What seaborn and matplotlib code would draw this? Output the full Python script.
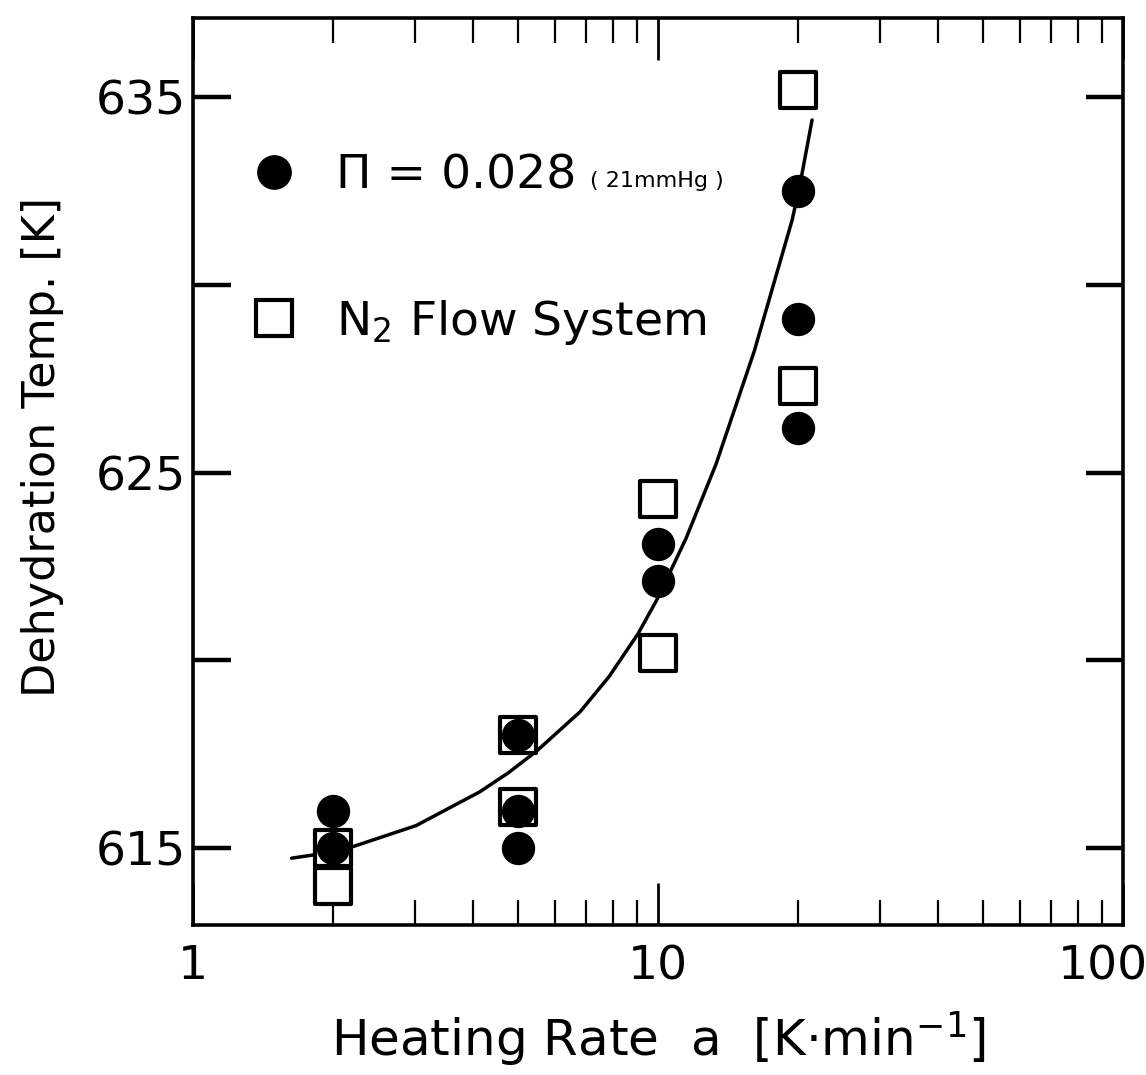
import seaborn as sns
import matplotlib.pyplot as plt
from matplotlib import ticker
from matplotlib.lines import Line2D
from matplotlib.transforms import ScaledTranslation

rate_circ = [2, 2, 5, 5, 5, 10, 10, 20, 20, 20]
temp_circ = [616.0, 615.0, 618.0, 616.0, 615.0, 623.1, 622.1, 632.5, 629.1, 626.2]

rate_sq = [2, 2, 5, 5, 10, 10, 20, 20]
temp_sq = [615.0, 614.0, 618.0, 616.1, 624.3, 620.2, 635.2, 627.3]

# hand drawn curve
curve_rate = [1.63, 1.89, 2.21, 3.02, 4.14, 4.76, 5.49, 6.80, 7.85, 9.06, 9.95,
              11.49, 13.33, 16.09, 19.42, 20.20, 21.44]
curve_temp = [614.73, 614.85, 615.04, 615.60, 616.50, 617.00, 617.59, 618.63, 619.57,
              620.71, 621.62, 623.25, 625.23, 628.22, 631.72, 632.68, 634.39]

y_major = [615, 625, 635]
x_major = [1, 10, 100]

sns.set_style("ticks")
plt.rcParams["font.family"] = ["DejaVu Sans"]
plt.rcParams.update({"text.color": "black", "axes.labelcolor": "black",
                     "xtick.color": "black", "ytick.color": "black",
                     "axes.edgecolor": "black"})

fig, ax = plt.subplots(figsize=(11.46, 10.75), dpi=100)
fig.subplots_adjust(left=0.1684, right=0.98, top=0.983, bottom=0.1395)

sns.lineplot(x=curve_rate, y=curve_temp, color="black", lw=2.5, sort=False, ax=ax, zorder=2)
sns.scatterplot(x=rate_sq, y=temp_sq, marker="s", s=26**2, color="white",
                edgecolor="black", linewidth=3, ax=ax, zorder=3)
sns.scatterplot(x=rate_circ, y=temp_circ, marker="o", s=24**2, color="black",
                edgecolor="black", linewidth=0, ax=ax, zorder=4)

ax.set_xscale("log")
ax.set_xlim(1, 100)
ax.set_ylim(612.95, 637.1)

ax.xaxis.set_major_locator(ticker.FixedLocator(x_major))
ax.xaxis.set_major_formatter(ticker.FuncFormatter(lambda v, p: f"{v:g}"))
ax.xaxis.set_minor_locator(ticker.LogLocator(base=10, subs=range(2, 10)))
ax.xaxis.set_minor_formatter(ticker.NullFormatter())
ax.yaxis.set_major_locator(ticker.FixedLocator(y_major))
ax.yaxis.set_minor_locator(ticker.MultipleLocator(5))

for s in ax.spines.values():
    s.set_linewidth(2.6)
    s.set_visible(True)
    s.set_color("black")

ax.tick_params(axis="x", which="both", direction="in", top=True, bottom=True, color="black")
ax.tick_params(axis="x", which="major", length=30, width=2.0, pad=14, labelsize=34)
ax.tick_params(axis="x", which="minor", length=18, width=1.6)
ax.tick_params(axis="y", which="both", direction="in", left=True, right=True,
               length=27, width=3.2, color="black")
ax.tick_params(axis="y", which="major", pad=5, labelsize=34)

ax.set_xlabel("Heating Rate  a  [K·min$^{-1}$]", fontsize=36, labelpad=14)
ax.set_ylabel("Dehydration Temp. [K]", fontsize=32)
ax.yaxis.set_label_coords(-0.139, 0.527)

handles = [
    Line2D([], [], ls="", marker="o", ms=24, color="black"),
    Line2D([], [], ls="", marker="s", ms=26, mfc="white", mec="black", mew=3),
]
leg = ax.legend(handles, ["Π = 0.028", "N$_2$ Flow System"], loc="upper left",
                bbox_to_anchor=(0.062, 0.851), frameon=False, fontsize=34,
                handlelength=1.0, handletextpad=0.8, labelspacing=2.1, borderpad=0,
                borderaxespad=0)

fig.canvas.draw()
# keep "100" inside the figure, like the reference
last = ax.get_xticklabels()[-1]
last.set_transform(last.get_transform() + ScaledTranslation(-0.2, 0, fig.dpi_scale_trans))

bb = leg.get_texts()[0].get_window_extent()
tx, ty = ax.transAxes.inverted().transform((bb.x1 + 14, (bb.y0 + bb.y1) / 2 - 5))
ax.text(tx, ty, "( 21mmHg )", transform=ax.transAxes, va="center", ha="left", fontsize=16)

fig.savefig("out.png", dpi=100)
